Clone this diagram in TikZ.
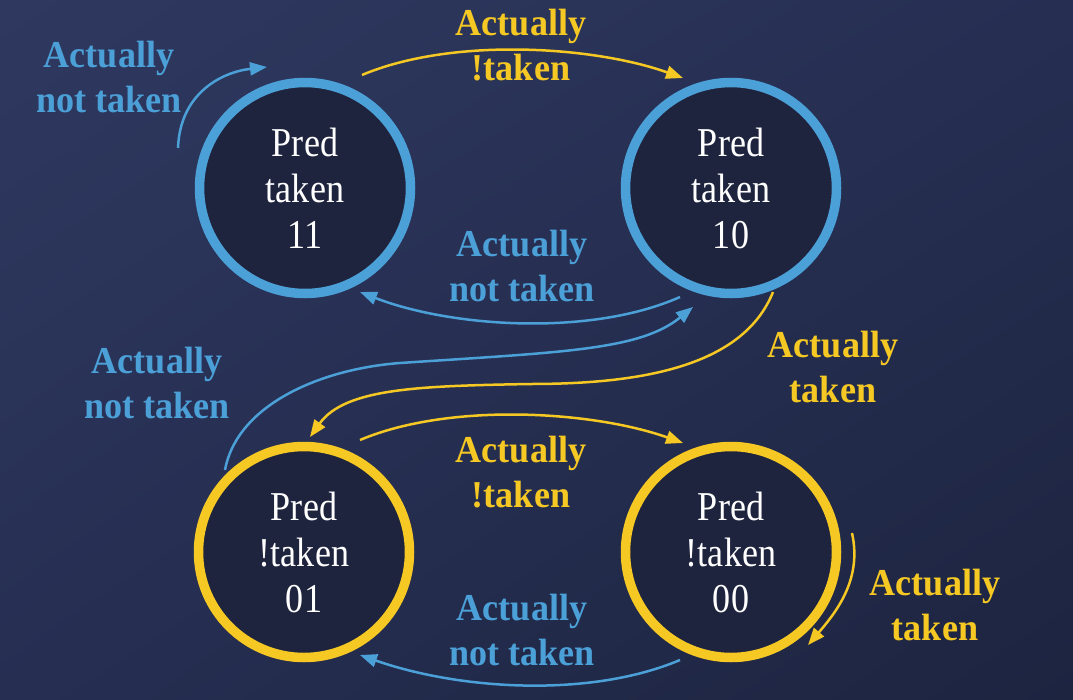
\documentclass[tikz,border=0pt]{standalone}
\usepackage{fontspec}
\setmainfont{Liberation Serif}
\newfontfamily\labfont[FakeStretch=0.95]{Liberation Serif}
\newfontfamily\cirfont[FakeStretch=0.88]{Liberation Serif}
\usetikzlibrary{arrows.meta,calc,shadings}
\definecolor{bgA}{RGB}{47,57,96}
\definecolor{bgB}{RGB}{38,47,82}
\definecolor{bgC}{RGB}{29,36,64}
\definecolor{cfill}{RGB}{31,36,62}
\definecolor{cblue}{RGB}{76,160,216}
\definecolor{cyel}{RGB}{245,200,35}
\tikzset{
  state/.style={circle, minimum size=211pt, inner sep=0pt, line width=9.5pt, fill=cfill,
    text=white, align=center, font=\cirfont\fontsize{41}{46}\selectfont},
  bstate/.style={state, draw=cblue},
  ystate/.style={state, draw=cyel},
  lab/.style={align=center, inner sep=0pt, font=\labfont\bfseries\fontsize{38}{45}\selectfont},
  blab/.style={lab, text=cblue},
  ylab/.style={lab, text=cyel},
  conn/.style={line width=2.5pt, -{Triangle[length=17pt,width=13pt]}},
  bconn/.style={conn, draw=cblue},
  yconn/.style={conn, draw=cyel}
}
\begin{document}
\begin{tikzpicture}[x=1pt,y=-1pt]
\useasboundingbox (0,0) rectangle (1073,699);
\shade[upper left=bgA, upper right=bgB, lower left=bgB, lower right=bgC] (0,0) rectangle (1073,699);

\node[bstate] (s11) at (305,188) {Pred\\taken\\11};
\node[bstate] (s10) at (731,188) {Pred\\taken\\10};
\node[ystate] (s01) at (304,552) {Pred\\!taken\\01};
\node[ystate] (s00) at (731,552) {Pred\\!taken\\00};

\node[blab] (l1) at (109,77) {Actually\\not taken};
\node[ylab] (l2) at (521,45) {Actually\\!taken};
\node[blab] (l3) at (522,266) {Actually\\not taken};
\node[blab] (l4) at (157,383) {Actually\\not taken};
\node[ylab] (l5) at (833,367) {Actually\\taken};
\node[ylab] (l6) at (521,472) {Actually\\!taken};
\node[blab] (l7) at (522,630) {Actually\\not taken};
\node[ylab] (l8) at (935,605) {Actually\\taken};

% self loop on 11
\draw[bconn] ($(s11)+(-127,-40)$) .. controls +(2,-55) and +(-45,5) .. ($(s11)+(-38,-121)$);
% 11 -> 10
\draw[yconn] ($(s11)+(57,-113)$) .. controls +(90,-38) and +(-90,-32) .. ($(s10)+(-48,-110)$);
% 10 -> 11
\draw[bconn] ($(s10)+(-51,109)$) .. controls +(-90,40) and +(90,35) .. ($(s11)+(55,104)$);
% 01 -> 10
\draw[bconn] ($(s01)+(-79,-82)$) .. controls +(12,-65) and +(-80,6) .. (400,363)
  .. controls (565,352) and (640,350) .. ($(s10)+(-38,119)$);
% 10 -> 01
\draw[yconn] ($(s10)+(42,104)$) .. controls +(-30,75) and +(110,0) .. (530,384)
  .. controls (420,386) and (345,388) .. ($(s01)+(6,-115)$);
% 01 -> 00
\draw[yconn] ($(s01)+(56,-112)$) .. controls +(90,-38) and +(-90,-32) .. ($(s00)+(-48,-109)$);
% 00 -> 01
\draw[bconn] ($(s00)+(-51,108)$) .. controls +(-90,38) and +(100,35) .. ($(s01)+(56,103)$);
% self loop on 00
\draw[yconn] ($(s00)+(121,-19)$) .. controls +(10,45) and +(30,-35) .. ($(s00)+(77,93)$);
\end{tikzpicture}
\end{document}
